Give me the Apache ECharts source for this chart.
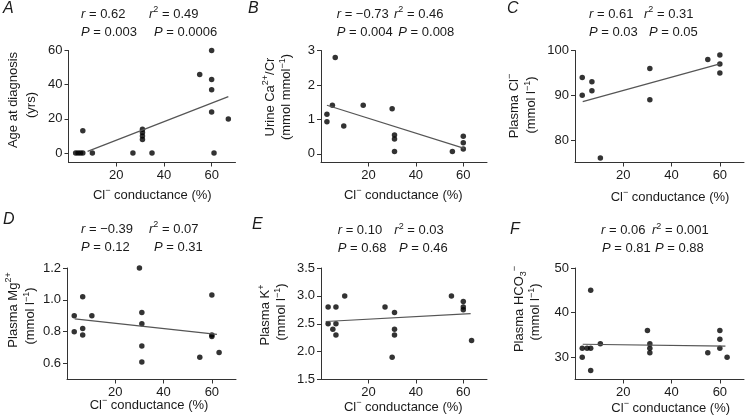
<!DOCTYPE html>
<html>
<head>
<meta charset="utf-8">
<script src="https://cdn.jsdelivr.net/npm/echarts@6/dist/echarts.min.js"></script>
<style>
  html, body { margin: 0; background: #fff; }
  #chart { width: 747px; height: 420px; }
</style>
</head>
<body>
<div id="chart"></div>
<script>
// values, x = Cl- conductance (%)
const xA = [3, 4, 5, 6, 6, 10, 27, 31, 31, 31, 31, 35, 55, 60, 60, 60, 60, 61, 67];
const yA = [0, 0, 0, 0, 13, 0, 0, 14, 12, 10, 8, 0, 46, 60, 43, 37, 24, 0, 20];
const fitA = [[8, 1], [67, 33]];

const xB = [2.5, 2.5, 4.8, 6, 9.6, 17.8, 30, 31, 31, 31, 55.4, 60, 60, 60];
const yB = [1.15, 0.93, 1.41, 2.8, 0.81, 1.41, 1.31, 0.55, 0.43, 0.07, 0.07, 0.51, 0.32, 0.14];
const fitB = [[2.5, 1.41], [60.4, 0.16]];

const xC = [3, 3, 7, 7, 10.5, 31, 31, 55, 60, 60, 60];
const yC = [94, 90, 93, 91, 76, 96, 89, 98, 99, 97, 95];
const fitC = [[3.2, 88.6], [60, 97]];

const xD = [3, 3, 6.5, 6.5, 6.5, 10.3, 30, 31, 31, 31, 31, 55, 60, 60, 60, 63];
const yD = [0.9, 0.8, 1.02, 0.82, 0.78, 0.9, 1.2, 0.92, 0.85, 0.71, 0.61, 0.64, 1.03, 0.78, 0.77, 0.67];
const fitD = [[3.2, 0.881], [62.1, 0.783]];

const xE = [3, 3, 5, 6.3, 6.3, 6.3, 10, 27, 30, 31, 31, 31, 55, 60, 60, 60, 63.5];
const yE = [2.8, 2.5, 2.4, 2.8, 2.5, 2.3, 3.0, 2.8, 1.9, 2.7, 2.4, 2.3, 3.0, 2.9, 2.8, 2.75, 2.2];
const fitE = [[2, 2.54], [63.1, 2.68]];

const xF = [3, 3, 5, 6.5, 6.5, 6.5, 10.5, 30, 31, 31, 31, 55, 60, 60, 60, 63];
const yF = [32, 30, 32, 32, 45, 27, 33, 36, 33, 32, 31, 31, 36, 34, 32, 30];
const fitF = [[3.2, 32.9], [62.3, 32.5]];

// tick labels
const xTicks = [20, 40, 60];
const yTicksA = [0, 20, 40, 60];
const yTicksB = [0, 1, 2, 3];
const yTicksC = [80, 90, 100];
const yTicksD = [0.6, 0.8, 1.0, 1.2];
const yTicksE = [1.5, 2.0, 2.5, 3.0, 3.5];
const yTicksF = [30, 40, 50];

// r / P stats per panel
const statsR = ["0.62", "\u22120.73", "0.61", "\u22120.39", "0.10", "0.06"];
const statsR2 = ["0.49", "0.46", "0.31", "0.07", "0.03", "0.001"];
const statsP1 = ["0.003", "0.004", "0.03", "0.12", "0.68", "0.81"];
const statsP2 = ["0.0006", "0.008", "0.05", "0.31", "0.46", "0.88"];

const FONT = '"Liberation Sans", Arial, Helvetica, sans-serif';
const INK = "#1a1a1a";

const rich = {
  n: { fontSize: 13, fontFamily: FONT, color: INK, lineHeight: 18 },
  i: { fontSize: 13, fontFamily: FONT, color: INK, lineHeight: 18, fontStyle: "italic" },
  sup: { fontSize: 9, fontFamily: FONT, color: INK, lineHeight: 9, verticalAlign: "top" },
  sub: { fontSize: 9, fontFamily: FONT, color: INK, lineHeight: 9, verticalAlign: "bottom" },
  L: { fontSize: 16, fontFamily: FONT, color: INK, fontStyle: "italic" }
};

function pts(xs, ys) {
  return xs.map((x, i) => [x, ys[i]]);
}

// layout of each panel (pixels)
const panels = [
  { x: xA, y: yA, fit: fitA, ticks: yTicksA, min: -5.5, max: 60, left: 68.5, top: 50.5, width: 167, height: 112, dec: 0 },
  { x: xB, y: yB, fit: fitB, ticks: yTicksB, min: -0.25, max: 3, left: 321, top: 50.5, width: 166, height: 112, dec: 0 },
  { x: xC, y: yC, fit: fitC, ticks: yTicksC, min: 75, max: 100, left: 575, top: 50.5, width: 169, height: 112, dec: 0 },
  { x: xD, y: yD, fit: fitD, ticks: yTicksD, min: 0.5, max: 1.2, left: 67, top: 268, width: 169, height: 111.5, dec: 1 },
  { x: xE, y: yE, fit: fitE, ticks: yTicksE, min: 1.5, max: 3.5, left: 321, top: 268, width: 166, height: 111.5, dec: 1 },
  { x: xF, y: yF, fit: fitF, ticks: yTicksF, min: 25, max: 50, left: 575, top: 268, width: 169, height: 111.5, dec: 0 }
];

const grid = [], xAxis = [], yAxis = [], series = [];
panels.forEach((p, k) => {
  grid.push({ left: p.left, top: p.top, width: p.width, height: p.height });
  xAxis.push({
    type: "value", gridIndex: k, min: 0, max: 70,
    axisLine: { onZero: false, lineStyle: { color: "#333", width: 1 } },
    axisTick: { customValues: xTicks, length: 4, lineStyle: { color: "#333" } },
    axisLabel: { customValues: xTicks, fontSize: 13, fontFamily: FONT, color: INK, margin: 6 },
    splitLine: { show: false }
  });
  yAxis.push({
    type: "value", gridIndex: k, min: p.min, max: p.max,
    axisLine: { show: true, onZero: false, lineStyle: { color: "#333", width: 1 } },
    axisTick: { show: true, customValues: p.ticks, length: 4, lineStyle: { color: "#333" } },
    axisLabel: {
      customValues: p.ticks, fontSize: 13, fontFamily: FONT, color: INK, margin: 6,
      formatter: v => Number(v).toFixed(p.dec)
    },
    splitLine: { show: false }
  });
  series.push({
    type: "scatter", xAxisIndex: k, yAxisIndex: k,
    data: pts(p.x, p.y), symbolSize: 5.5,
    itemStyle: { color: "#000" }
  });
  series.push({
    type: "line", xAxisIndex: k, yAxisIndex: k,
    data: p.fit, showSymbol: false,
    lineStyle: { color: "#555", width: 1.2 }
  });
});

function txt(x, y, text, rot, align) {
  return {
    type: "text", x: x, y: y, rotation: rot || 0, silent: true,
    style: {
      text: text, rich: rich, font: "13px " + FONT, fill: INK,
      align: align || "left", textAlign: align || "left",
      verticalAlign: "middle", textVerticalAlign: "middle"
    }
  };
}

const R90 = Math.PI / 2;
const xName = "{n|Cl}{sup|\u2212}{n| conductance (%)}";
const graphics = [
  // panel letters
  txt(3, 9, "{L|A}"), txt(248, 9, "{L|B}"), txt(507, 9, "{L|C}"),
  txt(3, 220, "{L|D}"), txt(252, 225, "{L|E}"), txt(510, 230, "{L|F}"),
  // x axis titles
  txt(152.3, 195, xName, 0, "center"), txt(403.3, 195, xName, 0, "center"), txt(670, 197, xName, 0, "center"),
  txt(149, 405, xName, 0, "center"), txt(403.3, 407, xName, 0, "center"), txt(670.7, 408, xName, 0, "center"),
  // y axis titles
  txt(13.3, 100, "{n|Age at diagnosis}", R90, "center"),
  txt(31.7, 105, "{n|(yrs)}", R90, "center"),
  txt(270, 97, "{n|Urine Ca}{sup|2+}{n|/Cr}", R90, "center"),
  txt(286.7, 97, "{n|(mmol mmol}{sup|\u22121}{n|)}", R90, "center"),
  txt(514.3, 106, "{n|Plasma Cl}{sup|\u2212}", R90, "center"),
  txt(531.7, 105, "{n|(mmol l}{sup|\u22121}{n|)}", R90, "center"),
  txt(13.3, 310, "{n|Plasma Mg}{sup|2+}", R90, "center"),
  txt(30.7, 316, "{n|(mmol l}{sup|\u22121}{n|)}", R90, "center"),
  txt(265.7, 315, "{n|Plasma K}{sup|+}", R90, "center"),
  txt(281.7, 312, "{n|(mmol l}{sup|\u22121}{n|)}", R90, "center"),
  txt(519, 309, "{n|Plasma HCO}{sub|3}{sup|\u2212}", R90, "center"),
  txt(535.7, 312, "{n|(mmol l}{sup|\u22121}{n|)}", R90, "center")
];

// stats text positions [r x, r2 x, P1 x, P2 x, line1 y, line2 y]
const statPos = [
  [81, 149, 81, 154, 14, 32],
  [336.7, 394, 336.7, 398.3, 14, 32],
  [589, 644, 589, 649, 14, 32],
  [81, 149, 81, 154, 229.3, 247.3],
  [337.7, 394.3, 337.7, 399, 230.7, 248.3],
  [601, 652, 602, 655, 230.7, 248.3]
];
statPos.forEach((s, k) => {
  graphics.push(txt(s[0], s[4], "{i|r}{n| = " + statsR[k] + "}"));
  graphics.push(txt(s[1], s[4], "{i|r}{sup|2}{n| = " + statsR2[k] + "}"));
  graphics.push(txt(s[2], s[5], "{i|P}{n| = " + statsP1[k] + "}"));
  graphics.push(txt(s[3], s[5], "{i|P}{n| = " + statsP2[k] + "}"));
});

const chart = echarts.init(document.getElementById("chart"));
chart.setOption({
  animation: false,
  backgroundColor: "#fff",
  grid: grid,
  xAxis: xAxis,
  yAxis: yAxis,
  series: series,
  graphic: graphics
});
</script>
</body>
</html>
